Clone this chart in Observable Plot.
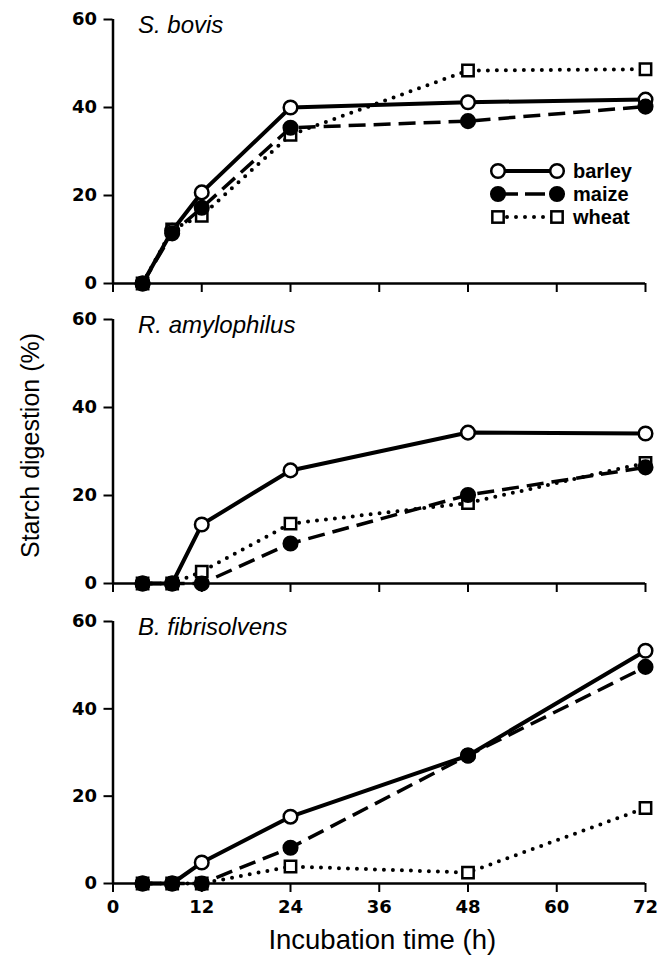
<!DOCTYPE html>
<html>
<head>
<meta charset="utf-8">
<script src="https://cdn.jsdelivr.net/npm/d3@7"></script>
<script src="https://cdn.jsdelivr.net/npm/@observablehq/plot@0.6"></script>
<style>
  html, body { margin: 0; padding: 0; background: white; }
  #chart { position: relative; width: 666px; height: 961px; font-family: "Liberation Sans", Arial, sans-serif; }
  #chart svg { display: block; }
</style>
</head>
<body>
<div id="chart"></div>
<script>
// ---- data ----
const hours = [4, 8, 12, 24, 48, 72];
const grains = ["barley", "maize", "wheat"];
const organisms = ["S. bovis", "R. amylophilus", "B. fibrisolvens"];

const sBovisBarley = [0, 12.0, 20.7, 40.0, 41.2, 41.8];
const sBovisMaize  = [0, 11.4, 17.2, 35.4, 36.9, 40.2];
const sBovisWheat  = [0, 12.3, 15.4, 33.8, 48.4, 48.7];

const rAmyBarley = [0, 0, 13.4, 25.7, 34.3, 34.1];
const rAmyMaize  = [0, 0, 0, 9.1, 20.1, 26.4];
const rAmyWheat  = [0, 0, 2.7, 13.6, 18.3, 27.4];

const bFibBarley = [0, 0, 4.8, 15.3, 29.3, 53.3];
const bFibMaize  = [0, 0, 0, 8.2, 29.3, 49.6];
const bFibWheat  = [0, 0, 0, 3.9, 2.5, 17.3];

const xTicks = [0, 12, 24, 36, 48, 60, 72];
const yTicks = [0, 20, 40, 60];
const xLabel = "Incubation time (h)";
const yLabel = "Starch digestion (%)";

// ---- styles ----
const tickFont = "DejaVu Sans, Liberation Sans, sans-serif";
const lineStyle = {
  barley: {strokeWidth: 4, strokeDasharray: null, strokeLinecap: "butt"},
  maize:  {strokeWidth: 3.5, strokeDasharray: "17,8", strokeLinecap: "butt"},
  wheat:  {strokeWidth: 4, strokeDasharray: "0,9", strokeLinecap: "round"}
};
const dotStyle = {
  barley: {symbol: "circle", r: 6.8, fill: "white"},
  maize:  {symbol: "circle", r: 6.8, fill: "black"},
  wheat:  {symbol: "square", r: 6.4, fill: "white"}
};
const dotOrder = ["wheat", "barley", "maize"];

function rowsFor(series) {
  return grains.flatMap((g, i) => hours.map((h, j) => ({grain: g, hour: h, value: series[i][j]})));
}

function panel(title, series, {height, marginTop, marginBottom, showX, yLab}) {
  const data = rowsFor(series);
  const marks = [
    Plot.axisY({ticks: yTicks, tickSize: 9, tickPadding: 7, strokeWidth: 2, fontSize: 18, fontWeight: "bold",
                fontFamily: tickFont, label: null}),
    Plot.axisX({ticks: xTicks, tickSize: 9, tickPadding: 8, strokeWidth: 2, fontSize: 18, fontWeight: "bold",
                fontFamily: tickFont, tickFormat: showX ? (d => String(d)) : (() => ""), label: null}),
    Plot.ruleX([0], {stroke: "black", strokeWidth: 2.5}),
    Plot.ruleY([0], {stroke: "black", strokeWidth: 2.5}),
    ...grains.map(g => Plot.line(data.filter(d => d.grain === g), {
      x: "hour", y: "value", stroke: "black", ...lineStyle[g]
    })),
    ...dotOrder.map(g => Plot.dot(data.filter(d => d.grain === g), {
      x: "hour", y: "value", stroke: "black", strokeWidth: 2.5, ...dotStyle[g]
    })),
    Plot.text([title], {text: d => d, frameAnchor: "top-left", textAnchor: "start", lineAnchor: "middle",
      dx: 25, dy: 6, fontSize: 24, fontStyle: "italic", fill: "black"})
  ];
  if (yLab) marks.push(Plot.text([yLabel], {text: d => d, frameAnchor: "left", rotate: -90, lineAnchor: "middle",
      textAnchor: "middle", dx: -82, dy: -6, fontSize: 25, fill: "black"}));
  if (showX) marks.push(Plot.text([xLabel], {text: d => d, frameAnchor: "bottom", lineAnchor: "middle",
      dx: 3, dy: 57, fontSize: 27.5, fill: "black"}));
  const svg = Plot.plot({
    width: 666, height, marginLeft: 112.5, marginRight: 21, marginTop, marginBottom,
    x: {domain: [0, 72]},
    y: {domain: [0, 60]},
    style: {fontFamily: "Liberation Sans, Arial, sans-serif", background: "white", color: "black", overflow: "visible"},
    marks
  });
  // make sure the tick labels take the heavy, wide face of the reference
  d3.select(svg).selectAll('g[aria-label$="tick label"]')
    .attr("font-size", 18).attr("font-weight", "bold").attr("font-family", tickFont)
    .selectAll("text").attr("font-size", 18).attr("font-weight", "bold");
  return svg;
}

const chart = document.getElementById("chart");
chart.append(panel(organisms[0], [sBovisBarley, sBovisMaize, sBovisWheat], {height: 300, marginTop: 19, marginBottom: 17}));
chart.append(panel(organisms[1], [rAmyBarley, rAmyMaize, rAmyWheat], {height: 300, marginTop: 19, marginBottom: 17, yLab: true}));
chart.append(panel(organisms[2], [bFibBarley, bFibMaize, bFibWheat], {height: 361, marginTop: 21, marginBottom: 78, showX: true}));

// ---- legend (over the first panel) ----
const leg = d3.select(chart).append("svg")
  .attr("width", 666).attr("height", 300)
  .style("position", "absolute").style("left", "0px").style("top", "0px")
  .style("pointer-events", "none");
const legY = [171, 194, 217];
const legX1 = 498, legX2 = 557, legText = 573;
grains.forEach((g, i) => {
  const y = legY[i];
  const ls = lineStyle[g], ds = dotStyle[g];
  leg.append("line").attr("x1", legX1).attr("x2", legX2).attr("y1", y).attr("y2", y)
    .attr("stroke", "black").attr("stroke-width", ls.strokeWidth)
    .attr("stroke-dasharray", g === "maize" ? "20,7" : ls.strokeDasharray)
    .attr("stroke-linecap", ls.strokeLinecap);
  [legX1, legX2].forEach(x => {
    if (ds.symbol === "circle") {
      leg.append("circle").attr("cx", x).attr("cy", y).attr("r", ds.r)
        .attr("fill", ds.fill).attr("stroke", "black").attr("stroke-width", 2.5);
    } else {
      const s = ds.r * Math.sqrt(Math.PI);
      leg.append("rect").attr("x", x - s / 2).attr("y", y - s / 2).attr("width", s).attr("height", s)
        .attr("fill", ds.fill).attr("stroke", "black").attr("stroke-width", 2.5);
    }
  });
  leg.append("text").attr("x", legText).attr("y", y).attr("dy", "0.35em")
    .attr("font-family", "Liberation Sans, Arial, sans-serif").attr("font-weight", "bold")
    .attr("font-size", 20).attr("fill", "black").text(g);
});
</script>
</body>
</html>
